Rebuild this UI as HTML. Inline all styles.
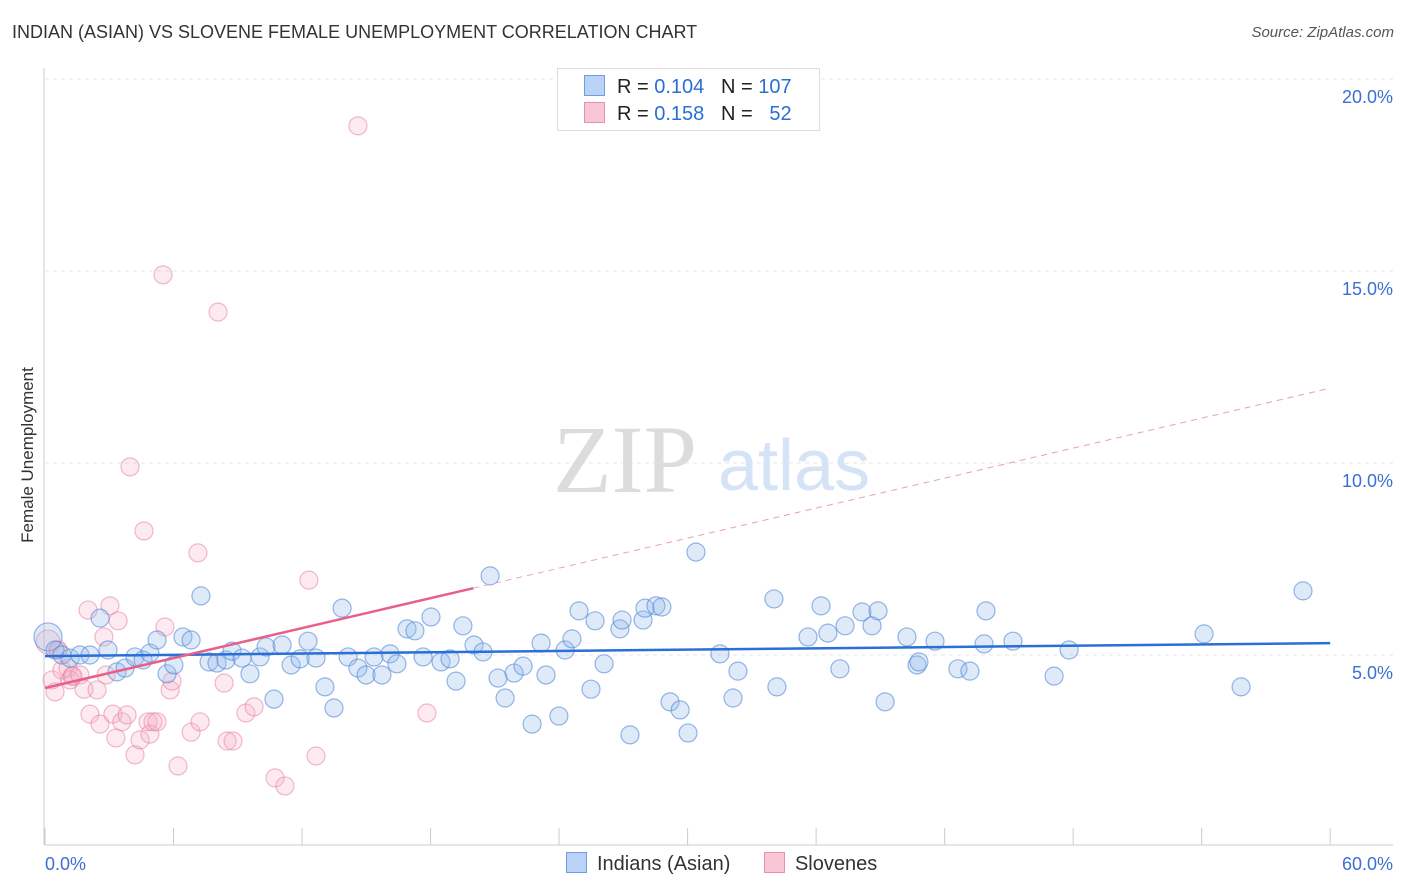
<!DOCTYPE html>
<html><head><meta charset="utf-8">
<style>
body{margin:0;background:#fff;font-family:"Liberation Sans",sans-serif;}
#wrap{position:relative;width:1406px;height:892px;overflow:hidden;}
.t{position:absolute;white-space:nowrap;}
</style></head>
<body>
<div id="wrap">
<div class="t" style="left:12px;top:22px;font-size:18px;color:#333;">INDIAN (ASIAN) VS SLOVENE FEMALE UNEMPLOYMENT CORRELATION CHART</div>
<div class="t" style="right:12px;top:24px;font-size:15px;color:#555;font-style:italic">Source: ZipAtlas.com</div>
<div class="t" style="left:-72px;top:445px;width:200px;text-align:center;font-size:17px;color:#333;transform:rotate(-90deg);">Female Unemployment</div>
<svg id="svg" width="1406" height="892" style="position:absolute;left:0;top:0"></svg>
</div>
<script>
const blueX=[0.14,0.47,0.79,1.17,1.63,2.10,2.57,2.94,3.36,3.74,4.20,4.58,4.90,5.23,5.70,6.02,6.44,6.82,7.28,7.66,8.03,8.45,8.73,9.20,9.57,10.04,10.32,10.69,11.07,11.49,11.91,12.28,12.65,13.07,13.49,13.87,14.15,14.61,14.99,15.36,15.73,16.11,16.43,16.90,17.27,17.65,18.02,18.49,18.91,19.19,19.51,20.03,20.45,20.78,21.15,21.48,21.90,22.32,22.74,23.16,23.39,23.99,24.28,24.60,24.93,25.49,25.68,26.10,26.84,26.94,27.31,27.92,28.01,28.52,28.80,29.18,29.65,30.02,30.39,31.51,32.12,32.35,34.03,34.17,35.62,36.23,36.55,37.11,37.35,38.14,38.61,38.89,39.22,40.24,40.71,40.80,41.55,42.62,43.18,43.84,43.93,45.19,47.11,47.81,54.11,55.84,58.73];
const blueY=[5.47,5.13,5.00,4.92,5.00,5.00,5.96,5.13,4.56,4.66,4.95,4.87,5.05,5.39,4.51,4.74,5.47,5.39,6.54,4.82,4.79,4.87,5.10,4.92,4.51,4.95,5.21,3.85,5.26,4.74,4.90,5.36,4.92,4.17,3.62,6.22,4.95,4.66,4.48,4.95,4.48,5.03,4.77,5.68,5.63,4.95,5.99,4.82,4.90,4.32,5.76,5.26,5.08,7.06,4.40,3.88,4.53,4.71,3.20,5.31,4.48,3.41,5.13,5.42,6.15,4.11,5.89,4.77,5.68,5.91,2.92,5.91,6.22,6.28,6.25,3.78,3.57,2.97,7.68,5.03,3.88,4.58,6.46,4.17,5.47,6.28,5.57,4.64,5.76,6.12,5.76,6.15,3.78,5.47,4.74,4.82,5.36,4.64,4.58,5.29,6.15,5.36,4.45,5.13,5.55,4.17,6.67];
const pinkX=[0.14,0.33,0.47,0.61,0.79,1.07,1.17,1.26,1.31,1.63,1.82,2.01,2.10,2.43,2.57,2.75,2.85,3.03,3.17,3.31,3.41,3.59,3.83,3.97,4.20,4.44,4.62,4.81,4.90,5.04,5.23,5.51,5.60,5.84,5.93,6.21,6.82,7.14,7.24,8.08,8.36,8.50,8.78,9.38,9.76,10.74,11.20,12.32,12.65,14.61,17.83,0.61];
const pinkY=[5.34,4.35,4.04,5.13,4.61,4.66,4.35,4.45,4.45,4.48,4.11,6.17,3.46,4.09,3.20,5.47,4.48,6.28,3.46,2.84,5.89,3.26,3.44,9.90,2.40,2.79,8.23,3.26,2.94,3.26,3.26,14.90,5.73,4.09,4.32,2.11,2.99,7.66,3.26,13.93,4.27,2.76,2.76,3.49,3.65,1.80,1.59,6.95,2.37,18.78,3.49,5.13];
const yTicks=[5,10,15,20];
const xTickVals=[0,6,12,18,24,30,36,42,48,54,60];
const blueTrend=[[0,4.97],[60,5.31]];
const pinkTrend=[[0,4.14],[20,6.74],[60,11.95]];

const X=v=>45+v*21.42, Y=v=>847-v*38.4;
const svg=document.getElementById('svg');const NS='http://www.w3.org/2000/svg';
function mk(tag,attrs,parent){const e=document.createElementNS(NS,tag);for(const k in attrs)e.setAttribute(k,attrs[k]);(parent||svg).appendChild(e);return e;}
yTicks.forEach(v=>{
 const g=mk('line',{x1:45,x2:1393,y1:Y(v),y2:Y(v),stroke:'#e6e6e6','stroke-dasharray':'4,4'});
 
 
 const t=mk('text',{x:1393,y:Y(v)+24,'text-anchor':'end','font-size':18,fill:'#3b6fd4','font-family':'Liberation Sans'});
 t.textContent=v.toFixed(1)+'%';
 
 
});
const ax=mk('line',{x1:45,x2:1393,y1:845,y2:845,stroke:'#ccc'});


const ay=mk('line',{x1:44,x2:44,y1:68,y2:845,stroke:'#ccc'});


xTickVals.forEach(v=>{
 const l=mk('line',{x1:X(v),x2:X(v),y1:828,y2:845,stroke:'#ccc'});
 
 
});
[[0,'start','0.0%'],[60,'end','60.0%']].forEach(a=>{
 const t=mk('text',{x:a[0]==0?45:1393,y:870,'text-anchor':a[1],'font-size':18,fill:'#3b6fd4','font-family':'Liberation Sans'});
 t.textContent=a[2];
 
 
});
const w1=mk('text',{x:553,y:492,'font-size':96,fill:'#dcdcdc','font-family':'Liberation Serif'});w1.textContent='ZIP';


const w2=mk('text',{x:718,y:490,'font-size':72,fill:'#d4e3f6','font-family':'Liberation Sans'});w2.textContent='atlas';


pinkX.forEach((x,i)=>{
 const c=mk('circle',{cx:X(x),cy:Y(pinkY[i]),r:i==0?12:9,fill:'rgba(244,170,195,0.25)',stroke:'rgba(232,130,160,0.55)','stroke-width':1.2});
 
 
});
blueX.forEach((x,i)=>{
 const c=mk('circle',{cx:X(x),cy:Y(blueY[i]),r:i==0?14:9,fill:'rgba(150,185,235,0.3)',stroke:'rgba(80,135,215,0.6)','stroke-width':1.2});
 
 
});
const bt=mk('line',{x1:X(blueTrend[0][0]),y1:Y(blueTrend[0][1]),x2:X(blueTrend[1][0]),y2:Y(blueTrend[1][1]),stroke:'#2a6fd6','stroke-width':2.5});


const pt=mk('line',{x1:X(pinkTrend[0][0]),y1:Y(pinkTrend[0][1]),x2:X(pinkTrend[1][0]),y2:Y(pinkTrend[1][1]),stroke:'#e8608a','stroke-width':2.5});


const pd=mk('line',{x1:X(pinkTrend[1][0]),y1:Y(pinkTrend[1][1]),x2:X(pinkTrend[2][0]),y2:Y(pinkTrend[2][1]),stroke:'#e8a0b5','stroke-width':1,'stroke-dasharray':'6,5'});


</script>
<div class="t" style="left:557px;top:68px;width:261px;height:61px;border:1px solid #ddd;background:#fff;font-size:20px;">
 <div style="position:absolute;left:26px;top:6px;"><span style="display:inline-block;width:19px;height:19px;background:#b9d2f5;border:1px solid #6f9de0;vertical-align:-3px;margin-right:12px"></span><span style="color:#222">R = </span><span style="color:#2a6fd6">0.104</span><span style="color:#222">&nbsp;&nbsp;&nbsp;N = </span><span style="color:#2a6fd6">107</span></div>
 <div style="position:absolute;left:26px;top:33px;"><span style="display:inline-block;width:19px;height:19px;background:#f8c6d5;border:1px solid #e890aa;vertical-align:-3px;margin-right:12px"></span><span style="color:#222">R = </span><span style="color:#2a6fd6">0.158</span><span style="color:#222">&nbsp;&nbsp;&nbsp;N = </span><span style="color:#2a6fd6">&nbsp;&nbsp;52</span></div>
</div>
<div class="t" style="left:566px;top:852px;font-size:20px;color:#333">
 <span><span style="display:inline-block;width:19px;height:19px;background:#b9d2f5;border:1px solid #6f9de0;vertical-align:-3px;margin-right:10px"></span>Indians (Asian)</span>
 <span style="margin-left:28px"><span style="display:inline-block;width:19px;height:19px;background:#f8c6d5;border:1px solid #e890aa;vertical-align:-3px;margin-right:10px"></span>Slovenes</span>
</div>
</body></html>
